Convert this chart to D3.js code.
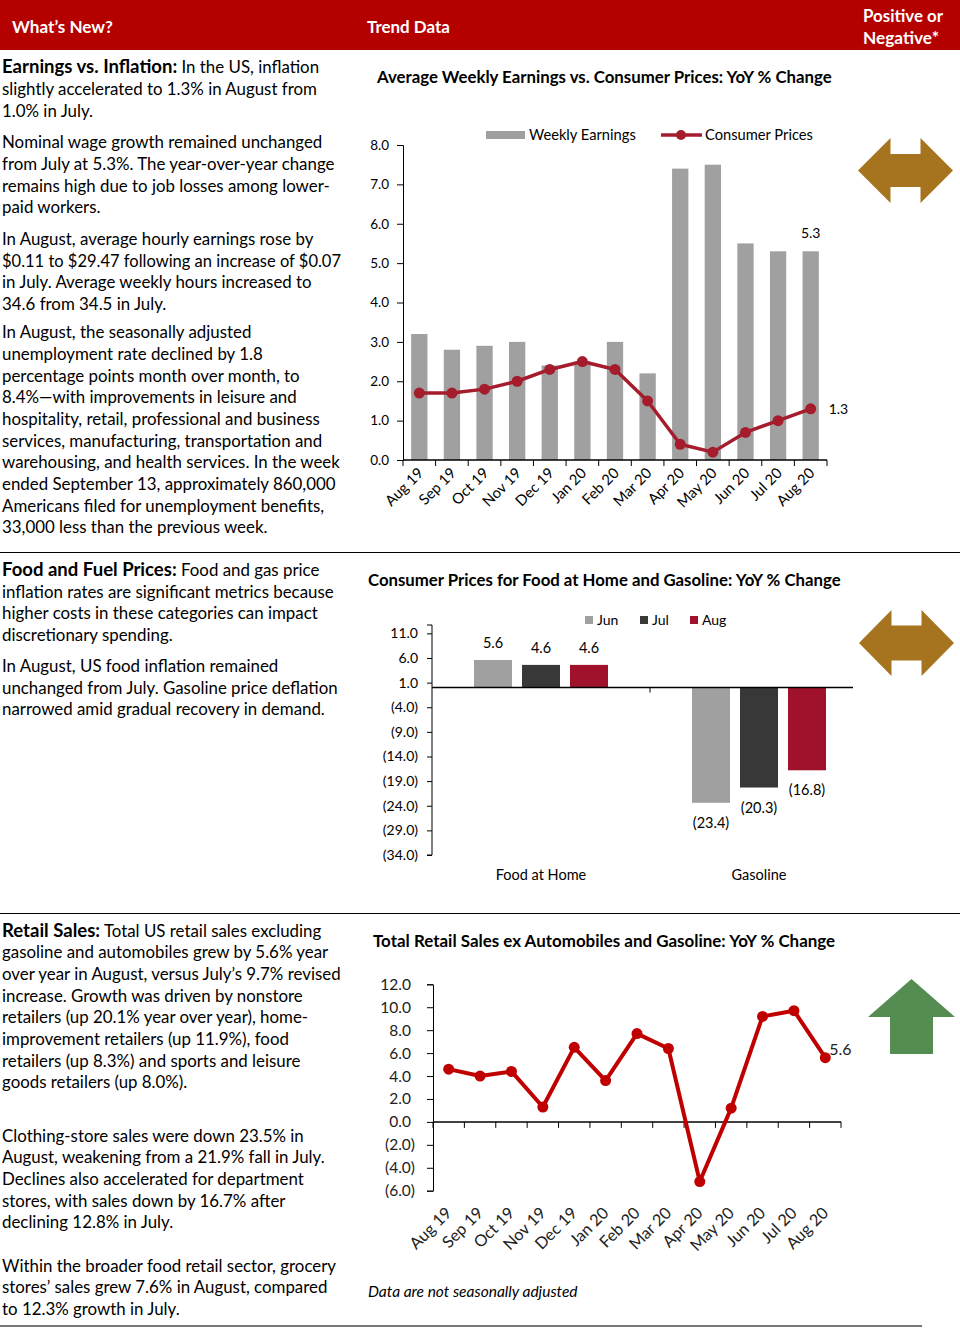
<!DOCTYPE html>
<html><head><meta charset="utf-8">
<script src="https://cdn.jsdelivr.net/npm/d3@7"></script>
<style>
body{margin:0;background:#fff;}
svg{display:block;font-family:Lato,"Open Sans",sans-serif;}
</style></head><body>
<svg id="c" width="960" height="1328"></svg>
<script>
// ---------------- DATA ----------------
const months = ["Aug 19","Sep 19","Oct 19","Nov 19","Dec 19","Jan 20","Feb 20","Mar 20","Apr 20","May 20","Jun 20","Jul 20","Aug 20"];
const weeklyEarnings = [3.2,2.8,2.9,3.0,2.4,2.5,3.0,2.2,7.4,7.5,5.5,5.3,5.3];
const consumerPrices = [1.7,1.7,1.8,2.0,2.3,2.5,2.3,1.5,0.4,0.2,0.7,1.0,1.3];
const c1Ticks = [0,1,2,3,4,5,6,7,8];

const foodCategories = ["Food at Home","Gasoline"];
const foodMonths = ["Jun","Jul","Aug"];
const foodJun = [5.6,-23.4];
const foodJul = [4.6,-20.3];
const foodAug = [4.6,-16.8];
const c2Ticks = [11,6,1,-4,-9,-14,-19,-24,-29,-34];

const retailSales = [4.6,4.0,4.4,1.3,6.5,3.6,7.7,6.4,-5.2,1.2,9.2,9.7,5.6];
const c3Ticks = [12,10,8,6,4,2,0,-2,-4,-6];

const headerLabels = ["What\u2019s New?","Trend Data"];
const chartTitles = ["Average Weekly Earnings vs. Consumer Prices: YoY % Change",
  "Consumer Prices for Food at Home and Gasoline: YoY % Change",
  "Total Retail Sales ex Automobiles and Gasoline: YoY % Change"];

const textBlocks = [
  {y:73.3, lead:"Earnings vs. Inflation:", lines:[" In the US, inflation","slightly accelerated to 1.3% in August from","1.0% in July."]},
  {y:148.3, lines:["Nominal wage growth remained unchanged","from July at 5.3%. The year-over-year change","remains high due to job losses among lower-","paid workers."]},
  {y:245, lines:["In August, average hourly earnings rose by","$0.11 to $29.47 following an increase of $0.07","in July. Average weekly hours increased to","34.6 from 34.5 in July."]},
  {y:338.3, lines:["In August, the seasonally adjusted","unemployment rate declined by 1.8","percentage points month over month, to","8.4%\u2014with improvements in leisure and","hospitality, retail, professional and business","services, manufacturing, transportation and","warehousing, and health services. In the week","ended September 13, approximately 860,000","Americans filed for unemployment benefits,","33,000 less than the previous week."]},
  {y:576, lead:"Food and Fuel Prices:", lines:[" Food and gas price","inflation rates are significant metrics because","higher costs in these categories can impact","discretionary spending."]},
  {y:672, lines:["In August, US food inflation remained","unchanged from July. Gasoline price deflation","narrowed amid gradual recovery in demand."]},
  {y:936.7, lead:"Retail Sales:", lines:[" Total US retail sales excluding","gasoline and automobiles grew by 5.6% year","over year in August, versus July\u2019s 9.7% revised","increase. Growth was driven by nonstore","retailers (up 20.1% year over year), home-","improvement retailers (up 11.9%), food","retailers (up 8.3%) and sports and leisure","goods retailers (up 8.0%)."]},
  {y:1141.7, lines:["Clothing-store sales were down 23.5% in","August, weakening from a 21.9% fall in July.","Declines also accelerated for department","stores, with sales down by 16.7% after","declining 12.8% in July."]},
  {y:1271.7, lines:["Within the broader food retail sector, grocery","stores\u2019 sales grew 7.6% in August, compared","to 12.3% growth in July."]}
];

// ---------------- HELPERS ----------------
const svg = d3.select("#c");
const fmt = v => v < 0 ? `(${d3.format(".1f")(-v)})` : d3.format(".1f")(v);
function fitWidth(sel, target){
  const w = sel.node().getComputedTextLength();
  const fs = parseFloat(sel.attr("font-size"));
  sel.attr("font-size", (fs*target/w).toFixed(2));
}

// ---------------- HEADER ----------------
svg.append("rect").attr("x",0).attr("y",0).attr("width",960).attr("height",50).attr("fill","#b50000");
const hdr = svg.append("g").attr("fill","#fff").attr("font-weight","bold").attr("font-size",16);
const h1 = hdr.append("text").attr("x",12).attr("y",33).attr("font-size",16).text(headerLabels[0]); fitWidth(h1,101);
const h2 = hdr.append("text").attr("x",367).attr("y",33).attr("font-size",16).text(headerLabels[1]); fitWidth(h2,83);
const h3 = hdr.append("text").attr("x",863).attr("y",22).attr("font-size",16).text("Positive or"); fitWidth(h3,80);
const h4 = hdr.append("text").attr("x",863).attr("y",44).attr("font-size",16).text("Negative*"); fitWidth(h4,76);

// dividers
svg.append("line").attr("x1",0).attr("x2",960).attr("y1",552.5).attr("y2",552.5).attr("stroke","#000").attr("stroke-width",1);
svg.append("line").attr("x1",0).attr("x2",960).attr("y1",913.5).attr("y2",913.5).attr("stroke","#000").attr("stroke-width",1);
svg.append("line").attr("x1",0).attr("x2",922).attr("y1",1326).attr("y2",1326).attr("stroke","#777").attr("stroke-width",2);

// ---------------- LEFT TEXT ----------------
const LH = 21.67;
const probe = svg.append("text").attr("font-size",16).text("warehousing, and health services. In the week");
const bodyFS = 16*338/probe.node().getComputedTextLength();
probe.remove();
const txt = svg.append("g").attr("font-size",bodyFS.toFixed(2)).attr("fill","#000");
textBlocks.forEach(b=>{
  b.lines.forEach((ln,i)=>{
    const t = txt.append("text").attr("x",2).attr("y",b.y+i*LH);
    if(i===0 && b.lead){
      t.append("tspan").attr("font-weight","bold").attr("font-size",(bodyFS*1.1).toFixed(2)).text(b.lead);
    }
    t.append("tspan").text(ln);
    const w = t.node().getComputedTextLength();
    if(w>340){ t.attr("textLength",339).attr("lengthAdjust","spacingAndGlyphs"); }
  });
});

// ---------------- TITLES ----------------
const titleSpecs = [{x:377,y:83,w:455},{x:368,y:586,w:473},{x:373,y:947,w:463}];
titleSpecs.forEach((s,i)=>{
  const t = svg.append("text").attr("x",s.x).attr("y",s.y).attr("font-weight","bold").attr("font-size",15).attr("fill","#000").text(chartTitles[i]);
  fitWidth(t,s.w);
});

// ---------------- CHART 1 ----------------
const c1 = svg.append("g");
const x1 = d3.scaleBand().domain(months).range([403,827]).paddingInner(0.5).paddingOuter(0.25);
const y1 = d3.scaleLinear().domain([0,8]).range([460,145]);
const bw1 = x1.bandwidth();
c1.selectAll(".bar").data(weeklyEarnings).join("rect")
  .attr("x",(d,i)=>x1(months[i])).attr("width",bw1)
  .attr("y",d=>y1(d)).attr("height",d=>y1(0)-y1(d)).attr("fill","#a0a0a0");
const ax1 = c1.append("g").attr("transform","translate(403,0)")
  .call(d3.axisLeft(y1).tickValues(c1Ticks).tickSize(6).tickPadding(8).tickFormat(d3.format(".1f")));
ax1.selectAll("text").attr("font-size",13.5).attr("fill","#000").attr("font-family","Lato");
ax1.selectAll("line,path").attr("stroke","#000");
// x axis
c1.append("line").attr("x1",x1.range()[0]).attr("x2",x1.range()[1]).attr("y1",y1(0)).attr("y2",y1(0)).attr("stroke","#000").attr("stroke-width",1.5);
const bounds1 = months.map(m=>x1(m)-x1.step()*x1.paddingInner()/2).concat([x1.range()[1]]);
c1.selectAll(".xt").data(bounds1).join("line").attr("x1",d=>d).attr("x2",d=>d).attr("y1",y1(0)).attr("y2",y1(0)+6).attr("stroke","#000");
c1.selectAll(".xl").data(months).join("text")
  .attr("transform",d=>`translate(${x1(d)+bw1/2+5},${y1(0)+14}) rotate(-45)`)
  .attr("text-anchor","end").attr("font-size",14.8).attr("fill","#000").text(d=>d);
// line
const line1 = d3.line().x((d,i)=>x1(months[i])+bw1/2).y(d=>y1(d));
c1.append("path").datum(consumerPrices).attr("d",line1).attr("fill","none").attr("stroke","#a51d2d").attr("stroke-width",3.5).attr("stroke-linejoin","round");
c1.selectAll(".dot").data(consumerPrices).join("circle").attr("cx",(d,i)=>x1(months[i])+bw1/2).attr("cy",d=>y1(d)).attr("r",5.5).attr("fill","#a51d2d");
// labels
const li = months.length-1;
c1.append("text").attr("x",x1(months[li])+bw1/2).attr("y",y1(weeklyEarnings[li])-13).attr("text-anchor","middle").attr("font-size",14).text(fmt(weeklyEarnings[li]));
c1.append("text").attr("x",x1(months[li])+bw1/2+18).attr("y",y1(consumerPrices[li])+5).attr("font-size",14).text(fmt(consumerPrices[li]));
// legend
c1.append("rect").attr("x",486).attr("y",131).attr("width",39).attr("height",8).attr("fill","#a0a0a0");
c1.append("text").attr("x",529).attr("y",140).attr("font-size",14.7).text("Weekly Earnings");
c1.append("line").attr("x1",661).attr("x2",702).attr("y1",135).attr("y2",135).attr("stroke","#a51d2d").attr("stroke-width",3.5);
c1.append("circle").attr("cx",681).attr("cy",135).attr("r",5).attr("fill","#a51d2d");
c1.append("text").attr("x",705).attr("y",140).attr("font-size",14.7).text("Consumer Prices");

// ---------------- CHART 2 ----------------
const c2 = svg.append("g");
const x2 = d3.scaleBand().domain(foodCategories).range([432,868]);
const xs2 = d3.scaleBand().domain(foodMonths).range([0,x2.bandwidth()]).paddingInner(10/48).paddingOuter(0.875);
const y2 = d3.scaleLinear().domain([-34,12.7]).range([855,625]);
const monthColors = {Jun:"#a0a0a0",Jul:"#383838",Aug:"#a0122b"};
const foodSeries = [foodJun,foodJul,foodAug];
foodSeries.forEach((ser,si)=>{
  const m = foodMonths[si];
  c2.selectAll(".b"+m).data(ser).join("rect")
    .attr("x",(d,i)=>x2(foodCategories[i])+xs2(m)).attr("width",xs2.bandwidth())
    .attr("y",d=>y2(Math.max(0,d))).attr("height",d=>Math.abs(y2(d)-y2(0))).attr("fill",monthColors[m]);
  c2.selectAll(".l"+m).data(ser).join("text")
    .attr("x",(d,i)=>x2(foodCategories[i])+xs2(m)+xs2.bandwidth()/2)
    .attr("y",d=>d>=0? y2(d)-12 : y2(d)+25)
    .attr("text-anchor","middle").attr("font-size",14.5).attr("fill","#000").text(d=>fmt(d));
});
const ax2 = c2.append("g").attr("transform","translate(432,0)")
  .call(d3.axisLeft(y2).tickValues(c2Ticks).tickSize(5).tickPadding(9).tickFormat(fmt));
ax2.selectAll("text").attr("font-size",14).attr("fill","#000").attr("font-family","Lato");
ax2.selectAll("line,path").attr("stroke","#000");
ax2.select("path").attr("d",`M-5,${y2.range()[1]}H0V${y2.range()[0]}H-5`);
c2.append("line").attr("x1",432).attr("x2",853).attr("y1",y2(0)).attr("y2",y2(0)).attr("stroke","#000").attr("stroke-width",1.5);
c2.append("line").attr("x1",x2("Gasoline")).attr("x2",x2("Gasoline")).attr("y1",y2(0)).attr("y2",y2(0)+5).attr("stroke","#000");
c2.selectAll(".cat").data(foodCategories).join("text")
  .attr("x",d=>x2(d)+x2.bandwidth()/2).attr("y",880).attr("text-anchor","middle").attr("font-size",14.5).text(d=>d);
// legend
const leg2 = [{m:"Jun",x:585},{m:"Jul",x:640},{m:"Aug",x:690}];
leg2.forEach(l=>{
  c2.append("rect").attr("x",l.x).attr("y",616).attr("width",8).attr("height",8).attr("fill",monthColors[l.m]);
  c2.append("text").attr("x",l.x+12).attr("y",625).attr("font-size",14).text(l.m);
});

// ---------------- CHART 3 ----------------
const c3 = svg.append("g");
const x3 = d3.scaleBand().domain(months).range([433,841]);
const y3 = d3.scaleLinear().domain([-6,12]).range([1190.7,984.3]);
const ax3 = c3.append("g").attr("transform","translate(433,0)")
  .call(d3.axisLeft(y3).tickValues(c3Ticks).tickSize(6).tickPadding(12).tickFormat(fmt));
ax3.selectAll("text").attr("font-size",15.5).attr("fill","#222").attr("font-family","Lato")
  .attr("dx",d=>d>=0?-4:0);
ax3.selectAll("line,path").attr("stroke","#000");
c3.append("line").attr("x1",433).attr("x2",841).attr("y1",y3(0)).attr("y2",y3(0)).attr("stroke","#000").attr("stroke-width",1.5);
const bounds3 = months.map(m=>x3(m)).concat([x3.range()[1]]);
c3.selectAll(".xt").data(bounds3).join("line").attr("x1",d=>d).attr("x2",d=>d).attr("y1",y3(0)).attr("y2",y3(0)+6).attr("stroke","#000");
c3.selectAll(".xl").data(months).join("text")
  .attr("transform",d=>`translate(${x3(d)+x3.bandwidth()/2+4},${1214}) rotate(-45)`)
  .attr("text-anchor","end").attr("font-size",16.3).attr("fill","#222").text(d=>d);
const line3 = d3.line().x((d,i)=>x3(months[i])+x3.bandwidth()/2).y(d=>y3(d));
c3.append("path").datum(retailSales).attr("d",line3).attr("fill","none").attr("stroke","#c00000").attr("stroke-width",4).attr("stroke-linejoin","round");
c3.selectAll(".dot").data(retailSales).join("circle").attr("cx",(d,i)=>x3(months[i])+x3.bandwidth()/2).attr("cy",d=>y3(d)).attr("r",5.5).attr("fill","#c00000");
c3.append("text").attr("x",x3(months[li])+x3.bandwidth()/2+4).attr("y",y3(retailSales[li])-3).attr("font-size",16).attr("fill","#222").text(fmt(retailSales[li]));
c3.append("text").attr("x",368).attr("y",1297).attr("font-style","italic").attr("font-size",15.5).attr("fill","#000").text("Data are not seasonally adjusted");

// ---------------- ARROWS ----------------
const gold = "#a6741e", green = "#558c51";
function dblArrow(cx,cy,hw,hh,sx,sh,color){
  const p = [[cx-hw,cy],[cx-sx,cy-hh],[cx-sx,cy-sh],[cx+sx,cy-sh],[cx+sx,cy-hh],[cx+hw,cy],[cx+sx,cy+hh],[cx+sx,cy+sh],[cx-sx,cy+sh],[cx-sx,cy+hh]];
  svg.append("path").attr("d","M"+p.map(q=>q.join(",")).join("L")+"Z").attr("fill",color);
}
dblArrow(905.5,170.5,47.5,32.5,15,16.5,gold);
dblArrow(906.5,643,47.5,33,15,17.5,gold);
svg.append("path").attr("d",`M911.5,979L955,1017H933V1054H890V1017H868Z`).attr("fill",green);
</script>
</body></html>
